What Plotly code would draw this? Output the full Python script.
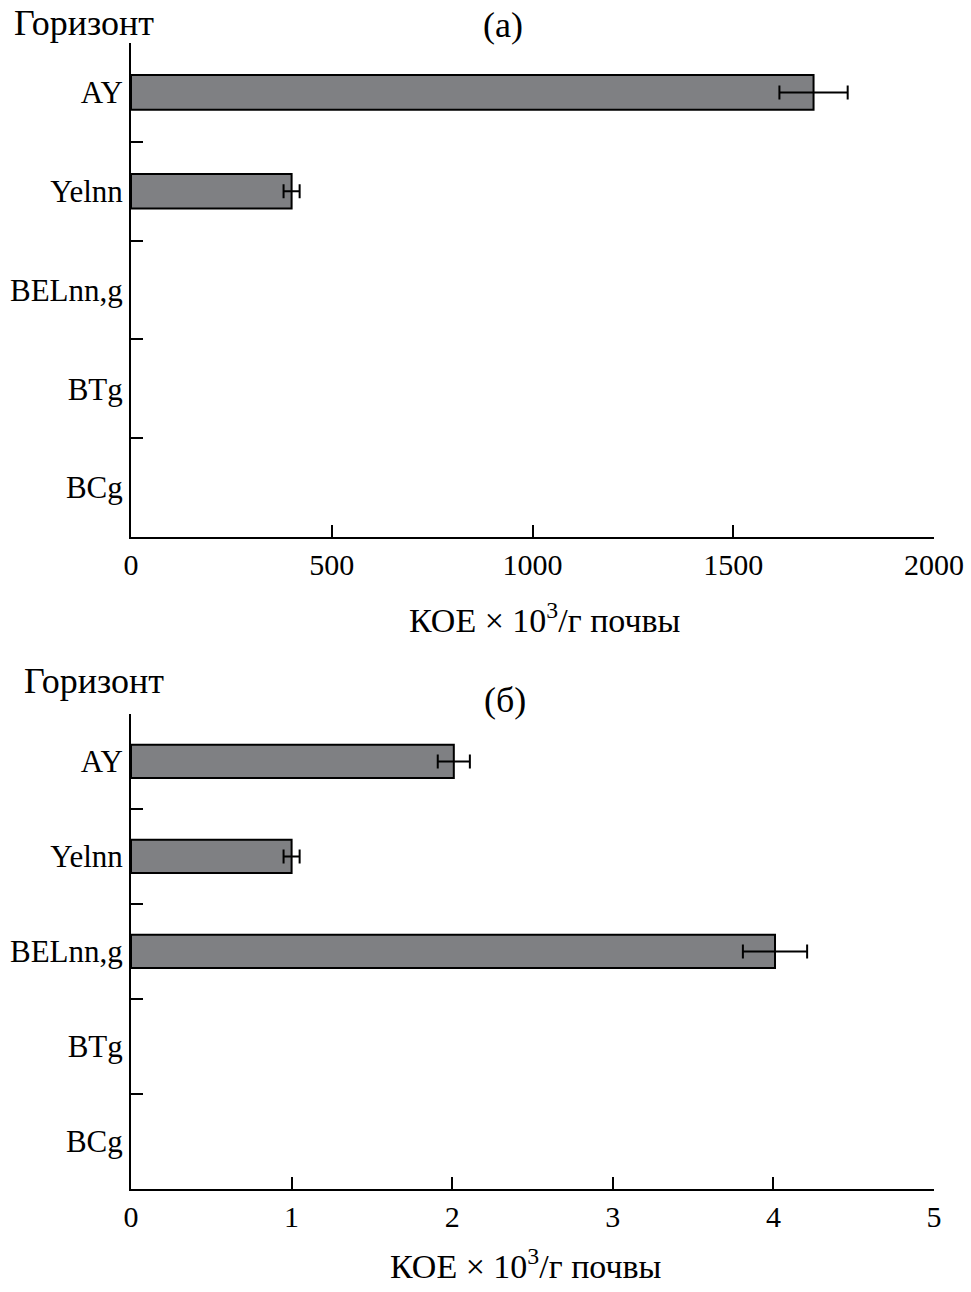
import plotly.graph_objects as go

categories = ["AY", "Yelnn", "BELnn,g", "BTg", "BCg"]
values_a = [1700, 400, None, None, None]
errors_a = [85, 20, None, None, None]
values_b = [2.01, 1.0, 4.01, None, None]
errors_b = [0.1, 0.05, 0.2, None, None]
ticks_a = [0, 500, 1000, 1500, 2000]
ticks_b = [0, 1, 2, 3, 4, 5]
x_title = "КОЕ × 10<sup>3</sup>/г почвы"
y_title = "Горизонт"
panel_titles = ["(а)", "(б)"]

FONT = "Liberation Serif"
OFF = 0          # page body margin removed via post_script
W, H = 971, 1292
L, R = 131 - OFF, 934 - OFF
PW = R - L

def py(p):   # page pixel y -> paper
    return 1 - (p - OFF) / H

def px(p):   # page pixel x -> paper
    return (p - OFF - L) / PW

fig = go.Figure()
bar_style = dict(orientation="h", marker=dict(color="#7f8083", line=dict(color="black", width=2)),
                 width=0.35, showlegend=False, hoverinfo="skip")
fig.add_trace(go.Bar(y=categories, x=values_a, xaxis="x", yaxis="y",
                     error_x=dict(type="data", array=errors_a, color="black", thickness=2, width=7),
                     **bar_style))
fig.add_trace(go.Bar(y=categories, x=values_b, xaxis="x2", yaxis="y2",
                     error_x=dict(type="data", array=errors_b, color="black", thickness=2, width=7),
                     **bar_style))

xcommon = dict(showline=True, linecolor="black", linewidth=2, ticks="inside", ticklen=12,
               tickcolor="black", tickwidth=1.5, showgrid=False, zeroline=False,
               tickfont=dict(family=FONT, size=30, color="black"))
ycommon = dict(showline=True, linecolor="black", linewidth=2, ticks="inside", ticklen=12,
               tickcolor="black", tickwidth=1.5, showgrid=False, zeroline=False,
               type="category", categoryarray=categories, categoryorder="array",
               tickson="boundaries", range=[4.5, -0.5],
               tickfont=dict(family=FONT, size=31, color="black"))

fig.update_layout(
    width=W, height=H,
    margin=dict(l=L, r=W - R, t=0, b=0),
    plot_bgcolor="white", paper_bgcolor="white",
    bargap=0.65,
    xaxis=dict(domain=[0, 1], anchor="y", range=[0, 2000], tickvals=ticks_a, **xcommon),
    yaxis=dict(domain=[py(537), py(43)], anchor="x", **ycommon),
    xaxis2=dict(domain=[0, 1], anchor="y2", range=[0, 5], tickvals=ticks_b, **xcommon),
    yaxis2=dict(domain=[py(1189), py(714)], anchor="x2", **ycommon),
)

ann_font = dict(family=FONT, size=36, color="black")
title_font = dict(family=FONT, size=34, color="black")
fig.add_annotation(text=y_title, xref="paper", yref="paper", x=px(12), y=py(23),
                   xanchor="left", yanchor="middle", showarrow=False, font=ann_font)
fig.add_annotation(text=y_title, xref="paper", yref="paper", x=px(22), y=py(681),
                   xanchor="left", yanchor="middle", showarrow=False, font=ann_font)
fig.add_annotation(text=panel_titles[0], xref="paper", yref="paper", x=px(503), y=py(25),
                   xanchor="center", yanchor="middle", showarrow=False, font=ann_font)
fig.add_annotation(text=panel_titles[1], xref="paper", yref="paper", x=px(505), y=py(700),
                   xanchor="center", yanchor="middle", showarrow=False, font=ann_font)
fig.add_annotation(text=x_title, xref="paper", yref="paper", x=px(545), y=py(618),
                   xanchor="center", yanchor="middle", showarrow=False, font=title_font)
fig.add_annotation(text=x_title, xref="paper", yref="paper", x=px(526), y=py(1264),
                   xanchor="center", yanchor="middle", showarrow=False, font=title_font)

fig.write_html("out.html", config={"displayModeBar": False},
               post_script="document.body.style.margin='0';document.body.style.overflow='hidden';")
